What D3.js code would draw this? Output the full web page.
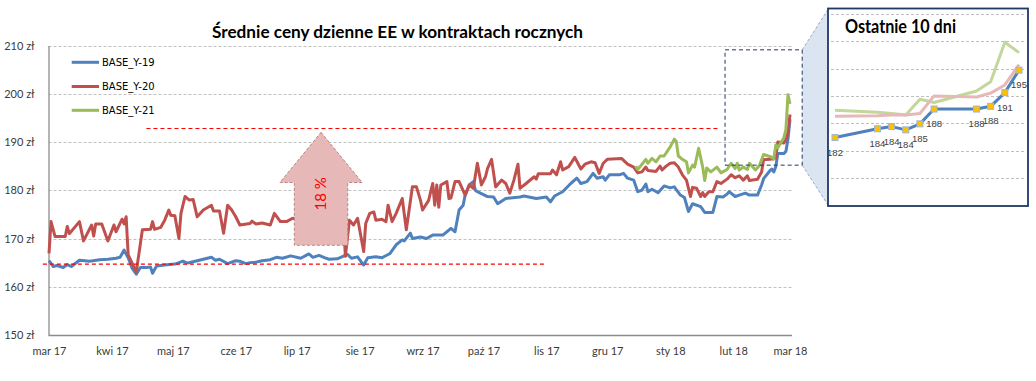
<!DOCTYPE html>
<html><head><meta charset="utf-8">
<script src="https://cdn.jsdelivr.net/npm/d3@7"></script>
<style>body{margin:0;background:#fff}svg{display:block}</style>
</head><body><svg id="c" width="1036" height="381"></svg>
<script>
const titleText = "Średnie ceny dzienne EE w kontraktach rocznych";
const insetTitle = "Ostatnie 10 dni";
const monthNames = ["sty","lut","mar","kwi","maj","cze","lip","sie","wrz","paź","lis","gru"];
const yTicks = [150,160,170,180,190,200,210];
const insetTicks = [175,180,185,190,195,200,205];
const seriesNames = ["BASE_Y-19","BASE_Y-20","BASE_Y-21"];
const seriesColors = ["#4f81bd","#c0504d","#9bbb59"];
const insetColors = ["#4f81bd","#e6b9b8","#c3d69b"];
const arrowLabel = "18 %";

const y19Dates = ["2017-03-01","2017-03-03","2017-03-05","2017-03-08","2017-03-10","2017-03-12","2017-03-16","2017-03-21","2017-03-26","2017-03-30",
"2017-04-03","2017-04-05","2017-04-07","2017-04-09","2017-04-11","2017-04-13","2017-04-15","2017-04-18","2017-04-20","2017-04-21",
"2017-04-23","2017-04-27","2017-05-02","2017-05-06","2017-05-08","2017-05-12","2017-05-14","2017-05-20","2017-05-22","2017-05-24",
"2017-05-28","2017-06-01","2017-06-03","2017-06-06","2017-06-08","2017-06-11","2017-06-14","2017-06-18","2017-06-21","2017-06-24",
"2017-06-28","2017-07-03","2017-07-07","2017-07-09","2017-07-12","2017-07-15","2017-07-17","2017-07-21","2017-07-26","2017-07-28",
"2017-07-31","2017-08-03","2017-08-05","2017-08-09","2017-08-12","2017-08-16","2017-08-19","2017-08-22","2017-08-23","2017-08-26",
"2017-08-27","2017-08-31","2017-09-03","2017-09-06","2017-09-11","2017-09-15","2017-09-17","2017-09-19","2017-09-21","2017-09-22",
"2017-09-24","2017-09-26","2017-09-27","2017-09-28","2017-10-03","2017-10-06","2017-10-08","2017-10-12","2017-10-19","2017-10-21",
"2017-10-27","2017-11-01","2017-11-03","2017-11-05","2017-11-09","2017-11-13","2017-11-16","2017-11-18","2017-11-21","2017-11-24",
"2017-11-26","2017-11-29","2017-11-30","2017-12-02","2017-12-07","2017-12-09","2017-12-11","2017-12-14","2017-12-16","2017-12-18",
"2017-12-20","2017-12-21","2017-12-23","2017-12-26","2017-12-29","2018-01-01","2018-01-03","2018-01-06","2018-01-08","2018-01-10",
"2018-01-12","2018-01-16","2018-01-18","2018-01-22","2018-01-24","2018-01-27","2018-01-29","2018-01-30","2018-02-02","2018-02-04",
"2018-02-07","2018-02-09","2018-02-13","2018-02-15",
"2018-02-16","2018-02-19","2018-02-20","2018-02-21","2018-02-22","2018-02-23","2018-02-26","2018-02-27","2018-02-28","2018-03-01"];
const y19Values = [165.4,164.2,164.4,164.0,164.6,164.2,165.5,165.3,165.6,165.7,
165.9,166.1,167.6,166.0,163.8,162.6,164.0,164.0,164.1,162.8,
164.3,164.5,164.7,165.3,164.9,165.3,165.5,166.1,165.5,165.7,
164.8,165.4,165.3,164.8,165.0,165.1,165.4,165.6,166.1,165.9,
166.4,165.9,166.8,166.1,166.5,166.0,165.7,165.8,166.7,165.9,
166.2,164.5,166.0,166.2,166.0,166.9,168.7,169.7,169.5,171.1,
170.0,170.3,170.0,170.7,170.7,172.1,171.4,175.9,176.9,179.0,
181.1,181.8,180.0,179.7,178.7,178.6,177.2,178.3,178.6,178.8,
178.3,178.6,177.6,178.8,179.7,181.4,182.5,181.4,181.8,183.5,
182.5,182.8,182.1,183.2,183.2,183.5,182.5,182.1,179.7,180.0,
181.3,179.7,180.2,179.5,180.9,180.5,180.7,179.0,178.5,175.6,
177.2,176.6,175.4,175.4,178.7,178.6,179.2,179.7,178.7,179.0,
179.4,179.0,179.0,181.1,
182.4,184.0,184.4,183.8,184.9,187.6,187.6,188.1,190.6,194.7];

const y20Dates = ["2017-03-01","2017-03-02","2017-03-04","2017-03-09","2017-03-10","2017-03-11","2017-03-16","2017-03-18","2017-03-22","2017-03-23",
"2017-03-24","2017-03-27","2017-03-30","2017-04-02","2017-04-03","2017-04-06","2017-04-07","2017-04-08","2017-04-09","2017-04-13",
"2017-04-16","2017-04-20","2017-04-21","2017-04-22","2017-04-25","2017-04-27","2017-04-29","2017-04-30","2017-05-02","2017-05-04",
"2017-05-05","2017-05-07","2017-05-09","2017-05-11","2017-05-13","2017-05-16","2017-05-20","2017-05-21","2017-05-24","2017-05-26",
"2017-05-28","2017-05-30","2017-06-01","2017-06-03","2017-06-08","2017-06-09","2017-06-11","2017-06-14","2017-06-18","2017-06-20",
"2017-06-23","2017-06-26","2017-06-29","2017-07-03","2017-07-12","2017-07-22","2017-07-24","2017-07-25","2017-07-27","2017-07-29",
"2017-07-31","2017-08-03","2017-08-04","2017-08-06","2017-08-08","2017-08-09","2017-08-12","2017-08-14","2017-08-15","2017-08-17",
"2017-08-19","2017-08-22","2017-08-24","2017-08-27","2017-08-29","2017-08-31","2017-09-01","2017-09-04","2017-09-06","2017-09-07",
"2017-09-08","2017-09-09","2017-09-10","2017-09-13","2017-09-14","2017-09-15","2017-09-17","2017-09-19","2017-09-22","2017-09-24",
"2017-09-26","2017-09-28","2017-09-30","2017-10-02","2017-10-03","2017-10-05","2017-10-07","2017-10-10","2017-10-12","2017-10-14",
"2017-10-16","2017-10-18","2017-10-19","2017-10-22","2017-10-26","2017-10-27","2017-10-28","2017-11-03","2017-11-04","2017-11-06",
"2017-11-08","2017-11-09","2017-11-12","2017-11-15","2017-11-18","2017-11-20","2017-11-23","2017-11-25","2017-11-27","2017-11-29",
"2017-12-01","2017-12-08","2017-12-11","2017-12-14","2017-12-16","2017-12-18","2017-12-20","2017-12-21","2017-12-25","2017-12-27",
"2017-12-28","2017-12-30","2018-01-01","2018-01-03","2018-01-05","2018-01-07","2018-01-09","2018-01-11","2018-01-12","2018-01-14",
"2018-01-16","2018-01-17","2018-01-18","2018-01-20","2018-01-22","2018-01-24","2018-01-26","2018-01-29","2018-01-31","2018-02-02",
"2018-02-04","2018-02-06","2018-02-08","2018-02-09","2018-02-13","2018-02-15",
"2018-02-16","2018-02-19","2018-02-20","2018-02-21","2018-02-22","2018-02-23","2018-02-26","2018-02-27","2018-02-28","2018-03-01"];
const y20Values = [166.9,173.5,170.4,170.4,172.5,171.0,173.5,169.5,172.8,170.5,
173.0,173.0,169.5,172.8,171.4,174.0,173.0,174.5,166.6,163.1,
171.8,171.9,173.5,171.9,172.3,173.8,175.9,174.8,174.7,170.0,
175.2,178.7,178.0,178.1,174.5,175.9,176.9,175.7,175.7,171.1,
176.9,175.9,174.5,172.8,173.1,173.6,173.0,173.2,172.8,175.2,
173.5,173.5,174.2,174.0,174.5,174.0,173.8,166.3,173.8,172.8,
174.2,167.3,173.1,175.2,175.5,173.8,174.0,173.5,176.9,173.5,
175.2,178.3,171.8,180.7,180.7,177.9,175.9,177.9,181.4,176.9,
181.1,176.5,181.1,181.8,178.3,178.4,181.8,181.8,179.0,181.1,
180.4,185.6,181.1,182.8,184.5,186.4,180.7,182.1,181.4,179.4,
182.1,185.4,180.4,181.4,182.8,182.3,183.4,183.4,184.2,183.2,
185.9,184.2,184.9,186.8,184.4,185.4,185.9,185.7,183.5,185.6,
186.4,186.6,185.4,184.8,183.6,183.8,184.8,184.1,183.9,185.0,
184.2,185.0,185.6,185.7,184.8,183.2,182.1,178.7,180.6,180.4,
178.7,179.5,178.7,179.7,179.7,181.8,181.4,182.3,183.2,182.6,
183.0,182.1,183.0,182.0,182.3,183.8,
186.3,186.4,186.5,186.5,186.8,190.0,189.8,190.5,192.0,195.7];

const y21Dates = ["2017-12-15","2017-12-16","2017-12-20","2017-12-21","2017-12-23","2017-12-25","2017-12-27","2017-12-29","2018-01-01","2018-01-03",
"2018-01-04","2018-01-05","2018-01-07","2018-01-09","2018-01-10","2018-01-12","2018-01-13","2018-01-15","2018-01-17","2018-01-18",
"2018-01-19","2018-01-21","2018-01-24","2018-01-26","2018-01-29","2018-01-31","2018-02-02","2018-02-03","2018-02-04","2018-02-06",
"2018-02-08","2018-02-09","2018-02-12","2018-02-14",
"2018-02-16","2018-02-19","2018-02-20","2018-02-21","2018-02-22","2018-02-23","2018-02-26","2018-02-27","2018-02-28","2018-03-01"];
const y21Values = [185.0,184.3,186.4,185.6,186.6,185.9,187.1,187.1,189.0,190.6,
190.1,187.1,186.4,185.9,183.6,185.2,184.8,188.7,184.8,182.0,
184.6,183.8,184.8,183.6,184.3,185.6,184.5,185.6,184.2,184.8,
184.3,185.6,184.2,185.2,
187.4,187.0,186.8,186.5,189.4,188.8,190.9,192.6,199.8,197.9];

// reference levels and annotations (values / dates)
const levelUpper = {value: 192.8, from: "2017-04-18", to: "2018-01-25"};
const levelLower = {value: 164.7, from: "2017-02-26", to: "2017-10-31"};
const arrowSpec = {date: "2017-07-13", base: 168.6, headBase: 181.6, tip: 192.0};
const zoomWindow = {from: "2018-01-28", to: "2018-03-07", low: 185.2, high: 209.1};

const parse = d3.timeParse("%Y-%m-%d");
const mk = (ds, vs) => ds.map((d, i) => ({date: parse(d), v: vs[i]}));
const series = [mk(y19Dates, y19Values), mk(y20Dates, y20Values), mk(y21Dates, y21Values)];

const svg = d3.select("#c");
const W = 1036, H = 381;
svg.append("rect").attr("width", W).attr("height", H).attr("fill", "#fff");

const x = d3.scaleTime().domain([parse("2017-03-01"), parse("2018-03-01")]).range([49, 790]);
const y = d3.scaleLinear().domain([150, 210]).range([335, 45.5]);
const plotL = 48.5, plotR = 792;

// gridlines
svg.append("g").selectAll("line").data(yTicks.filter(t => t > 150)).join("line")
  .attr("x1", plotL).attr("x2", plotR)
  .attr("y1", d => Math.round(y(d)) + 0.5).attr("y2", d => Math.round(y(d)) + 0.5)
  .attr("stroke", "#c0c0c0").attr("stroke-dasharray", "3,2");

// axes
const yAxis = d3.axisLeft(y).tickValues(yTicks).tickSize(0).tickPadding(14).tickFormat(d => d + " zł");
const gy = svg.append("g").attr("transform", `translate(${plotL},0)`).call(yAxis);
gy.select(".domain").attr("stroke", "#8c8c8c").attr("stroke-width", 1.3);
gy.selectAll("text").attr("font-family", "Lato, sans-serif").attr("font-size", 11).attr("fill", "#3a3a3a");

const months = d3.timeMonth.range(parse("2017-03-01"), parse("2018-03-02"));
const xAxis = d3.axisBottom(x).tickValues(months).tickSize(0).tickPadding(12)
  .tickFormat(d => monthNames[d.getMonth()] + " " + String(d.getFullYear()).slice(2));
const gx = svg.append("g").attr("transform", `translate(0,${Math.round(y(150)) + 0.5})`).call(xAxis);
gx.select(".domain").remove();
gx.selectAll("text").attr("font-family", "Lato, sans-serif").attr("font-size", 11).attr("fill", "#3a3a3a");
svg.append("line").attr("x1", plotL).attr("x2", plotR)
  .attr("y1", Math.round(y(150)) + 0.5).attr("y2", Math.round(y(150)) + 0.5)
  .attr("stroke", "#8c8c8c").attr("stroke-width", 1.3);

// series lines
const line = d3.line().x(d => x(d.date)).y(d => y(d.v));
series.forEach((s, i) => {
  svg.append("path").datum(s).attr("d", line).attr("fill", "none")
    .attr("stroke", seriesColors[i]).attr("stroke-width", 3).attr("stroke-linejoin", "round");
});

// red dashed levels
[levelUpper, levelLower].forEach(l => {
  svg.append("line").attr("x1", x(parse(l.from))).attr("x2", x(parse(l.to)))
    .attr("y1", y(l.value)).attr("y2", y(l.value))
    .attr("stroke", "#ff0000").attr("stroke-width", 1.2).attr("stroke-dasharray", "4,3");
});

// arrow
const ax = x(parse(arrowSpec.date));
const shaftHalf = 26.7, headHalf = 41.2;
const yb = y(arrowSpec.base), yh = y(arrowSpec.headBase), yt = y(arrowSpec.tip);
const arrowPts = [[ax, yt], [ax + headHalf, yh], [ax + shaftHalf, yh], [ax + shaftHalf, yb],
  [ax - shaftHalf, yb], [ax - shaftHalf, yh], [ax - headHalf, yh]];
svg.append("polygon").attr("points", arrowPts.map(p => p.join(",")).join(" "))
  .attr("fill", "#e6b9b8").attr("stroke", "#b98483").attr("stroke-width", 1).attr("stroke-dasharray", "3,2");
svg.append("text").attr("transform", `translate(${ax + 5},${(yh + yb) / 2 - 20}) rotate(-90)`)
  .attr("text-anchor", "middle").attr("font-family", "Lato, sans-serif").attr("font-size", 15)
  .attr("fill", "#ff0000").text(arrowLabel);

// legend
const legY = [62.3, 86.5, 110.3];
seriesNames.forEach((n, i) => {
  svg.append("line").attr("x1", 71.7).attr("x2", 99).attr("y1", legY[i]).attr("y2", legY[i])
    .attr("stroke", seriesColors[i]).attr("stroke-width", 3);
  svg.append("text").attr("x", 102).attr("y", legY[i] + 3.8)
    .attr("font-family", "DejaVu Sans, sans-serif").attr("font-size", 10).attr("fill", "#000").text(n);
});

// title
svg.append("text").attr("x", 397.5).attr("y", 38).attr("text-anchor", "middle")
  .attr("font-family", "Lato, sans-serif").attr("font-weight", "bold").attr("font-size", 17)
  .attr("textLength", 371).attr("lengthAdjust", "spacingAndGlyphs").attr("fill", "#000").text(titleText);

// zoom window + connector
const zx0 = x(parse(zoomWindow.from)), zx1 = x(parse(zoomWindow.to));
const zy0 = y(zoomWindow.high), zy1 = y(zoomWindow.low);
const boxL = 828, boxT = 8.5, boxW = 200, boxH = 197.5;
svg.append("polygon").attr("points", `${zx1},${zy0} ${boxL},${boxT + 1} ${boxL},${boxT + boxH - 1} ${zx1},${zy1}`)
  .attr("fill", "#dbe5f1");
[[zx1, zy0, boxL, boxT + 1], [zx1, zy1, boxL, boxT + boxH - 1]].forEach(p => {
  svg.append("line").attr("x1", p[0]).attr("y1", p[1]).attr("x2", p[2]).attr("y2", p[3])
    .attr("stroke", "#9aabc2").attr("stroke-dasharray", "3,2");
});
svg.append("rect").attr("x", zx0).attr("y", zy0).attr("width", zx1 - zx0).attr("height", zy1 - zy0)
  .attr("fill", "none").attr("stroke", "#1f3864").attr("stroke-width", 1).attr("stroke-dasharray", "4,3");

// inset
const gi = svg.append("g");
gi.append("rect").attr("x", boxL).attr("y", boxT).attr("width", boxW).attr("height", boxH)
  .attr("fill", "#fff").attr("stroke", "#1f3864").attr("stroke-width", 1.8);
const lastN = 10;
const insetData = series.map(s => s.slice(-lastN));
const xi = d3.scaleTime().domain([insetData[0][0].date, insetData[0][lastN - 1].date]).range([835, 1019]);
const yi = d3.scaleLinear().domain([180, 205]).range([150.7, 13.7]);
gi.selectAll("line.ig").data(insetTicks).join("line").attr("class", "ig")
  .attr("x1", 831).attr("x2", 1025)
  .attr("y1", d => Math.round(yi(d)) + 0.5).attr("y2", d => Math.round(yi(d)) + 0.5)
  .attr("stroke", "#c0c0c0").attr("stroke-dasharray", "3,2");
const iline = d3.line().x(d => xi(d.date)).y(d => yi(d.v));
[2, 1, 0].forEach(i => {
  gi.append("path").datum(insetData[i]).attr("d", iline).attr("fill", "none")
    .attr("stroke", insetColors[i]).attr("stroke-width", 3).attr("stroke-linejoin", "round");
});
gi.selectAll("rect.mk").data(insetData[0]).join("rect").attr("class", "mk")
  .attr("x", d => xi(d.date) - 3).attr("y", d => yi(d.v) - 3).attr("width", 6).attr("height", 6)
  .attr("fill", "#ffc000").attr("stroke", "#9db5d6").attr("stroke-width", 1);
gi.selectAll("text.lb").data(insetData[0]).join("text").attr("class", "lb")
  .attr("x", d => xi(d.date)).attr("y", d => yi(d.v) + 18).attr("text-anchor", "middle")
  .attr("font-family", "Liberation Sans, sans-serif").attr("font-size", 9.5).attr("fill", "#404040")
  .text(d => Math.round(d.v));
gi.append("text").attr("x", 845).attr("y", 33).attr("font-family", "Lato, sans-serif")
  .attr("font-weight", "bold").attr("font-size", 19).attr("textLength", 111)
  .attr("lengthAdjust", "spacingAndGlyphs").attr("fill", "#000").text(insetTitle);
</script></body></html>
